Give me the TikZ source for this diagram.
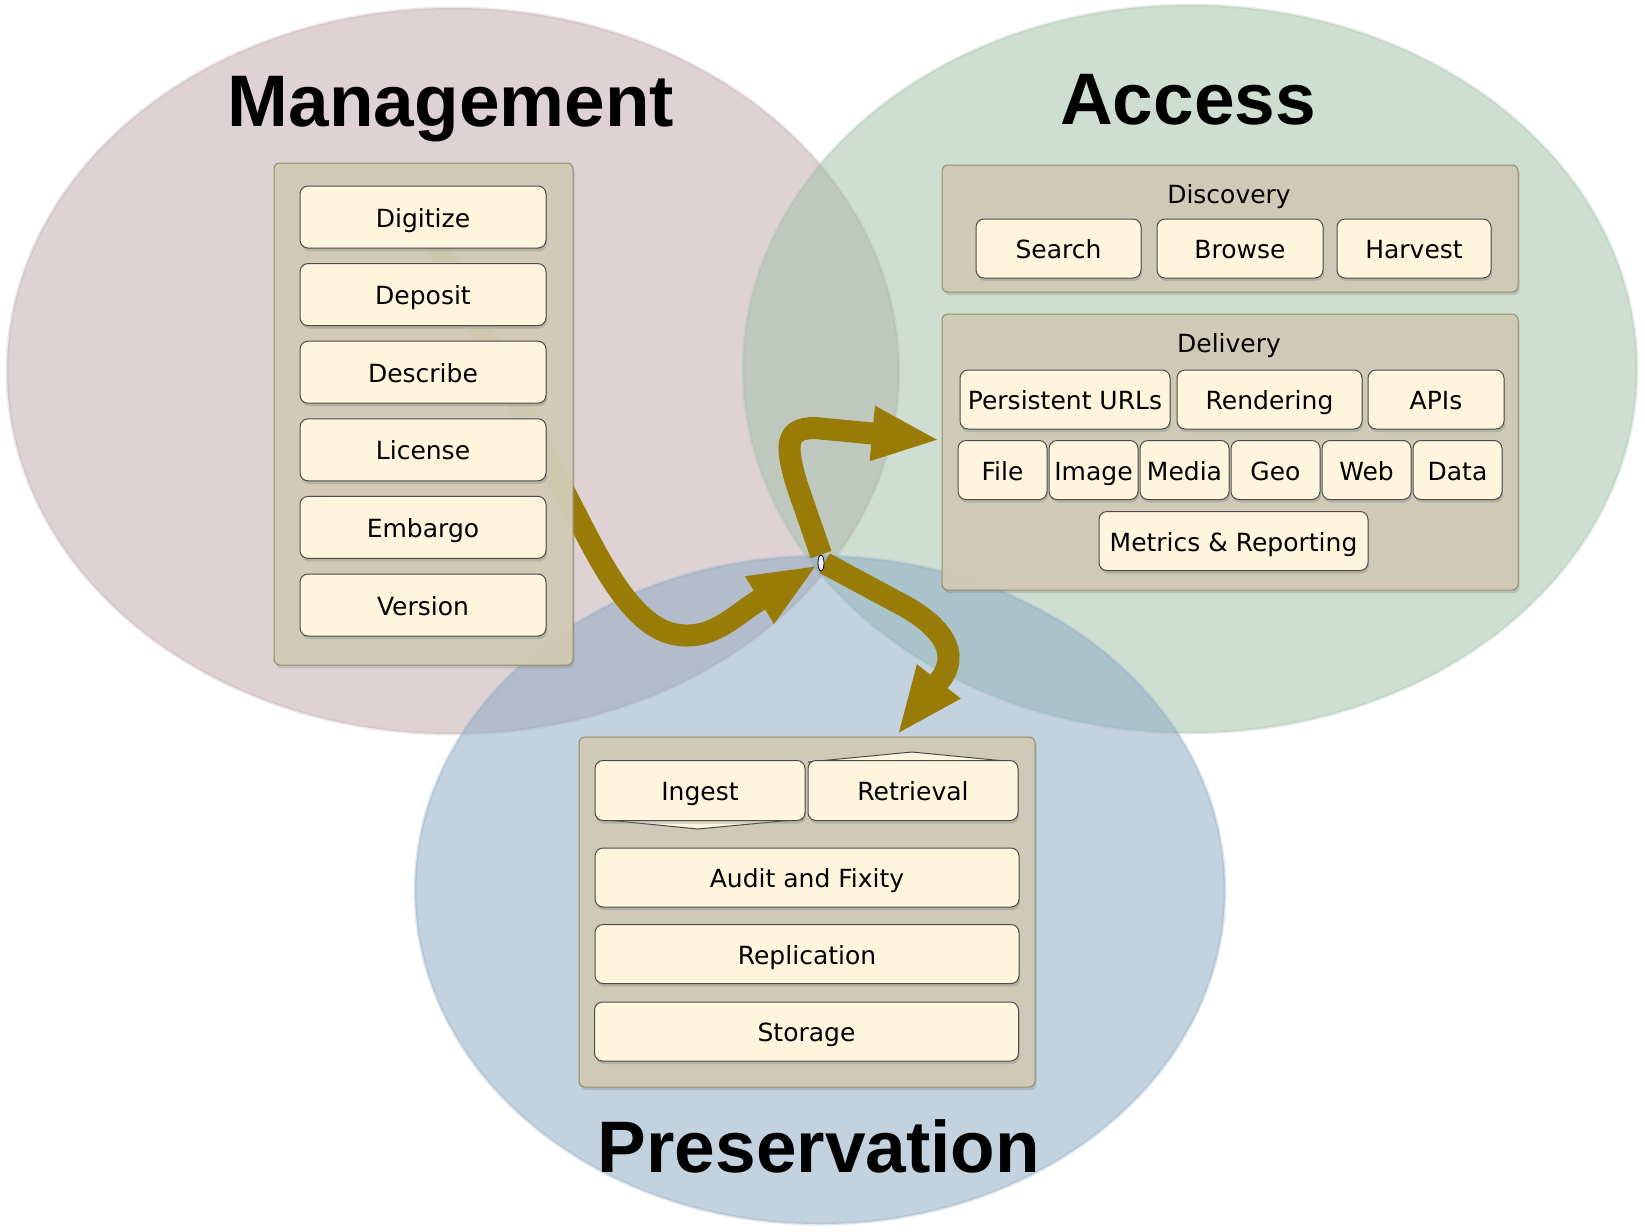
\documentclass[tikz,border=0pt]{standalone}
\usepackage{fontspec}
\newfontfamily\itemfont{DejaVu Sans}
\newfontfamily\titlefont{Liberation Sans}
\usepackage{tikz}
\usetikzlibrary{positioning}
\usetikzlibrary{shadows}
\usetikzlibrary{shapes.geometric}
\usetikzlibrary{arrows.meta}
\definecolor{mgmtpink}{RGB}{191,167,171}
\definecolor{accgreen}{RGB}{159,191,169}
\definecolor{presblue}{RGB}{135,167,193}
\definecolor{panelfill}{RGB}{209,203,182}
\definecolor{panelline}{RGB}{150,140,100}
\definecolor{itemfill}{RGB}{255,245,220}
\definecolor{flowcol}{RGB}{153,124,8}
\pgfdeclarelayer{back}
\pgfsetlayers{back,main}
\tikzset{
  venn/.style = {fill opacity=0.5, draw opacity=0.25, line width=1.5pt},
  panel/.style = {draw=panelline, fill=panelfill, fill opacity=0.95,
    rounded corners=3pt, line width=0.5pt, inner sep=0pt,
    drop shadow={shadow xshift=0.8pt, shadow yshift=-1.5pt, opacity=0.3}},
  item/.style = {draw=black!70, fill=itemfill, rounded corners=4pt,
    line width=0.5pt, inner sep=0pt, minimum height=29.5pt,
    text height=12pt, text depth=2pt,
    font=\itemfont\fontsize{12.5}{14}\selectfont,
    drop shadow={shadow xshift=0.6pt, shadow yshift=-1.5pt, opacity=0.35}},
  flap/.style = {draw=black!70, fill=itemfill, line width=0.5pt},
  grouplabel/.style = {anchor=base, font=\itemfont\fontsize{12.5}{14}\selectfont},
  title/.style = {anchor=base, font=\titlefont\bfseries\fontsize{36.5}{40}\selectfont},
  hub/.style = {ellipse, draw=black, fill=blue!5, line width=0.4pt,
    minimum width=3pt, minimum height=8pt, inner sep=0pt},
  flow/.style = {draw=flowcol, line width=11pt,
    -{Triangle[length=34pt, width=25pt]}}
}

\begin{document}
\begin{tikzpicture}[x=0.5pt, y=-0.5pt]
  \useasboundingbox (0,0) rectangle (1645,1232);

  % Management
  \node[title] (mgmttitle) at (451,126) {Management};
  \node[panel, minimum width=149.5pt, minimum height=251pt] (mgmt) at (423.5,414) {};
  \foreach \lbl [count=\i from 0] in {Digitize,Deposit,Describe,License,Embargo,Version}
    \node[item, minimum width=123pt, minimum height=31pt] (m\i) at (423,{217+77.6*\i}) {\lbl};

  % Access
  \node[title] (acctitle) at (1188,124) {Access};
  \node[panel, minimum width=288pt, minimum height=63.5pt] (discovery) at (1230,228.5) {};
  \node[grouplabel] (disclabel) at (1229,203.5) {Discovery};
  \node[item, minimum width=82.5pt] (search) at (1058.5,248.5) {Search};
  \node[item, minimum width=83pt, right=7.5pt of search] (browse) {Browse};
  \node[item, minimum width=77pt, right=6.5pt of browse] (harvest) {Harvest};

  \node[panel, minimum width=288pt, minimum height=138pt] (delivery) at (1230,452) {};
  \node[grouplabel] (dellabel) at (1229,352) {Delivery};
  \node[item, minimum width=105pt] (purl) at (1065,399.5) {Persistent URLs};
  \node[item, minimum width=92.5pt, right=3pt of purl] (render) {Rendering};
  \node[item, minimum width=68pt, right=2.5pt of render] (apis) {APIs};
  \foreach \lbl [count=\i from 0] in {File,Image,Media,Geo,Web,Data}
    \node[item, minimum width=44.5pt] (d\i) at ({1002.5+91*\i},470) {\lbl};
  \node[item, minimum width=134.5pt] (metrics) at (1233.5,541) {Metrics \& Reporting};

  % Preservation
  \node[title] (prestitle) at (819,1172) {Preservation};
  \node[panel, minimum width=228pt, minimum height=175pt] (pres) at (807,912) {};
  \draw[flap] (597,819) -- (698,829) -- (803,819) -- cycle;
  \draw[flap] (808,762) -- (912,752) -- (1015,762) -- cycle;
  \node[item, minimum width=105pt, minimum height=30pt] (ingest) at (700,790.5) {Ingest};
  \node[item, minimum width=105pt, minimum height=30pt] (retrieval) at (913,790.5) {Retrieval};
  \node[item, minimum width=212pt] (audit) at (807,877.5) {Audit and Fixity};
  \node[item, minimum width=212pt] (repl) at (807,954) {Replication};
  \node[item, minimum width=212pt] (storage) at (806.5,1031.5) {Storage};

  % flows
  \node[hub] (hub) at (821,563) {};
  \coordinate (accin) at (940,440);
  \coordinate (presin) at (897,735);

  \begin{pgfonlayer}{back}
    \fill[white] (0,0) rectangle (1645,1232);
    \draw[venn, fill=mgmtpink, draw=mgmtpink] (453,371) ellipse [x radius=446, y radius=363];
    \draw[venn, fill=accgreen, draw=accgreen] (1190,369) ellipse [x radius=447, y radius=364];
    \draw[venn, fill=presblue, draw=presblue] (820,890) ellipse [x radius=405, y radius=334];
    \draw[flow] (m0.center) -- (585,532) .. controls (625,610) and (655,640) .. (695,635)
      .. controls (720,632) and (740,612) .. (758,601) -- (hub);
    \draw[flow] (hub.north) -- (797,485) .. controls (785,445) and (785,428) .. (815,428) -- (accin);
    \draw[flow] (hub.east) -- (895,601) .. controls (945,626) and (960,655) .. (940,680) -- (presin);
  \end{pgfonlayer}
\end{tikzpicture}
\end{document}
